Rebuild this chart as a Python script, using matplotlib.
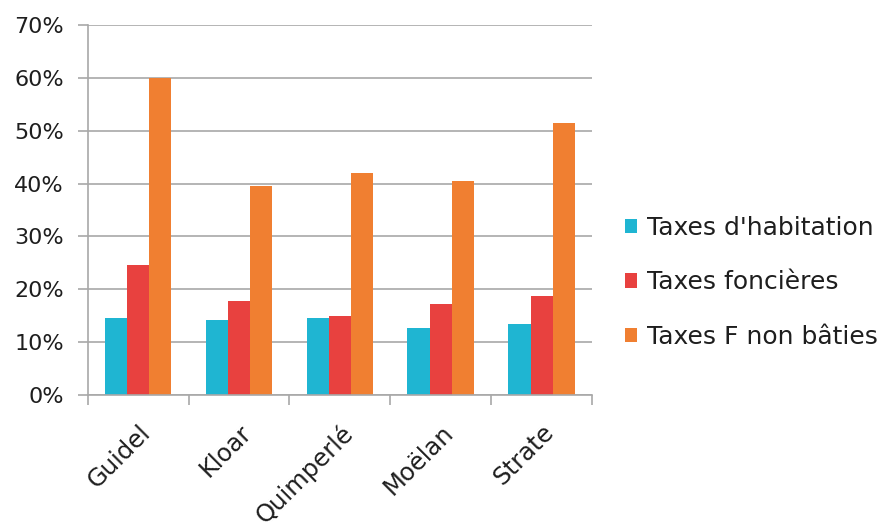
import numpy as np
import matplotlib.pyplot as plt
from matplotlib.ticker import FixedLocator, PercentFormatter

plt.rcParams["font.family"] = ["DejaVu Sans"]

communes = ["Guidel", "Kloar", "Quimperlé", "Moëlan", "Strate"]
series = ["Taxes d'habitation", "Taxes foncières", "Taxes F non bâties"]
habitation = [14.6, 14.3, 14.6, 12.7, 13.4]
foncieres = [24.6, 17.8, 15.0, 17.3, 18.7]
non_baties = [59.9, 39.6, 42.0, 40.4, 51.5]
colors = ["#1fb5d2", "#e8413f", "#f07f31"]

fig = plt.figure(figsize=(8.85, 5.27), dpi=100)
ax = fig.add_axes([0.099, 0.25, 0.57, 0.703])

x = np.arange(len(communes))
width = 0.22
for i, (vals, name) in enumerate(zip([habitation, foncieres, non_baties], series)):
    ax.bar(x + (i - 1) * width, vals, width, color=colors[i], label=name, zorder=2)

ax.set_xlim(-0.5, len(communes) - 0.5)
ax.set_ylim(0, 70)
ax.set_yticks(np.arange(0, 71, 10))
ax.yaxis.set_major_formatter(PercentFormatter(decimals=0))
ax.grid(axis="y", color="#a8a8a8", linewidth=1.2, zorder=0)

# boundary ticks between communes, labels at the centres
ax.xaxis.set_major_locator(FixedLocator(np.arange(-0.5, len(communes), 1)))
ax.xaxis.set_minor_locator(FixedLocator(x))
ax.set_xticklabels([""] * (len(communes) + 1))
ax.set_xticklabels(communes, minor=True, rotation=45, ha="right",
                   rotation_mode="anchor", fontsize=17.5, color="#1e1e1e")
ax.tick_params(axis="x", which="major", length=7, color="#a8a8a8", width=1.2)
ax.tick_params(axis="x", which="minor", length=0, pad=18)
ax.tick_params(axis="y", length=7, color="#a8a8a8", width=1.2, labelsize=16,
               labelcolor="#1e1e1e", pad=10)

for side in ["top", "right"]:
    ax.spines[side].set_visible(False)
for side in ["left", "bottom"]:
    ax.spines[side].set_color("#a8a8a8")
    ax.spines[side].set_linewidth(1.2)

ax.legend(loc="center left", bbox_to_anchor=(1.02, 0.305), frameon=False,
          fontsize=18, handlelength=0.5, handleheight=0.5, handletextpad=0.4,
          labelspacing=1.22, labelcolor="#1e1e1e")

fig.savefig("out.png", dpi=100)
